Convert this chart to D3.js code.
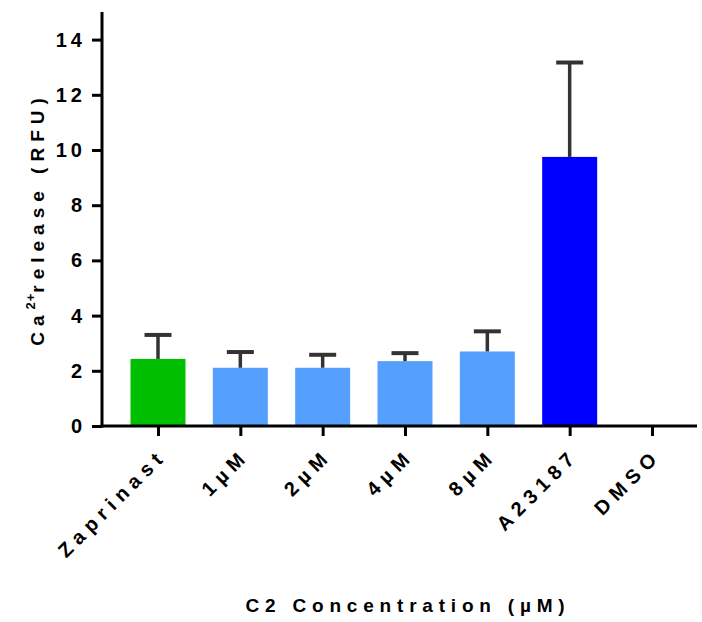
<!DOCTYPE html>
<html>
<head>
<meta charset="utf-8">
<script src="https://cdn.jsdelivr.net/npm/d3@7"></script>
<style>
  html, body { margin: 0; padding: 0; background: #fff; }
  svg { display: block; font-family: "Liberation Sans", Arial, sans-serif; font-weight: bold; }
</style>
</head>
<body>
<svg id="chart" width="702" height="622"></svg>
<script>
// Calcium release per treatment (mean and upper error bar)
const categories = ["Zaprinast", "1µM", "2µM", "4µM", "8µM", "A23187", "DMSO"];
const means      = [2.43, 2.11, 2.11, 2.35, 2.70, 9.75, 0];
const errorTops  = [3.30, 2.68, 2.58, 2.64, 3.43, 13.17, null];
const barColors  = ["#00bf00", "#55a0ff", "#55a0ff", "#55a0ff", "#55a0ff", "#0000ff", "#ffffff"];
const yTicks     = [0, 2, 4, 6, 8, 10, 12, 14];

const svg = d3.select("#chart");
const plotLeft = 102, plotBottom = 426, plotTop = 12, plotRight = 697;

const y = d3.scaleLinear().domain([0, 15]).range([plotBottom, plotTop]);
const x = d3.scalePoint().domain(categories).range([158, 652]);
const step = x.step();
const barW = step * 0.668;

// bars
svg.append("g").selectAll("rect")
  .data(categories)
  .join("rect")
  .attr("x", d => x(d) - barW / 2)
  .attr("y", (d, i) => y(means[i]))
  .attr("width", barW)
  .attr("height", (d, i) => y(0) - y(means[i]))
  .attr("fill", (d, i) => barColors[i]);

// error bars (upper only)
const errG = svg.append("g").attr("stroke", "#333").attr("fill", "none");
categories.forEach((c, i) => {
  if (errorTops[i] == null) return;
  errG.append("line")
    .attr("x1", x(c)).attr("x2", x(c))
    .attr("y1", y(means[i])).attr("y2", y(errorTops[i]))
    .attr("stroke-width", 3.5);
  errG.append("line")
    .attr("x1", x(c) - 13.5).attr("x2", x(c) + 13.5)
    .attr("y1", y(errorTops[i])).attr("y2", y(errorTops[i]))
    .attr("stroke-width", 4);
});

// y axis
const yAxis = svg.append("g")
  .attr("transform", `translate(${plotLeft},0)`)
  .call(d3.axisLeft(y).tickValues(yTicks).tickSize(10).tickPadding(6).tickFormat(d3.format("d")));
yAxis.select(".domain").attr("d", `M0,${plotTop}V${plotBottom + 1.5}`).attr("stroke", "#000").attr("stroke-width", 3);
yAxis.selectAll(".tick line").attr("stroke", "#000").attr("stroke-width", 3);
yAxis.selectAll(".tick text")
  .attr("fill", "#000")
  .style("font-size", "20px")
  .style("font-weight", "bold")
  .style("letter-spacing", "4px")
  .style("font-family", "'Liberation Sans', Arial, sans-serif");

// x axis
const xAxis = svg.append("g")
  .attr("transform", `translate(0,${plotBottom})`)
  .call(d3.axisBottom(x).tickSize(10).tickFormat(""));
xAxis.select(".domain").attr("d", `M${plotLeft - 1.5},0H${plotRight}`).attr("stroke", "#000").attr("stroke-width", 3);
xAxis.selectAll(".tick line").attr("stroke", "#000").attr("stroke-width", 3);

// rotated category labels
svg.append("g").selectAll("text")
  .data(categories)
  .join("text")
  .attr("transform", d => `translate(${x(d) + 10},${plotBottom + 31}) rotate(-45)`)
  .attr("text-anchor", "end")
  .style("font-size", "20px")
  .style("letter-spacing", "6px")
  .text(d => d);

// y axis title
const yTitle = svg.append("text")
  .attr("transform", `translate(44,219) rotate(-90)`)
  .attr("text-anchor", "middle")
  .style("font-size", "19px")
  .style("letter-spacing", "6px");
yTitle.append("tspan").text("Ca");
yTitle.append("tspan").attr("dy", -9).style("font-size", "13px").style("letter-spacing", "1px").text("2+");
yTitle.append("tspan").attr("dy", 9).text("release (RFU)");

// x axis title
svg.append("text")
  .attr("x", 408).attr("y", 612)
  .attr("text-anchor", "middle")
  .style("font-size", "19px")
  .style("letter-spacing", "5.8px")
  .text("C2 Concentration (µM)");
</script>
</body>
</html>
